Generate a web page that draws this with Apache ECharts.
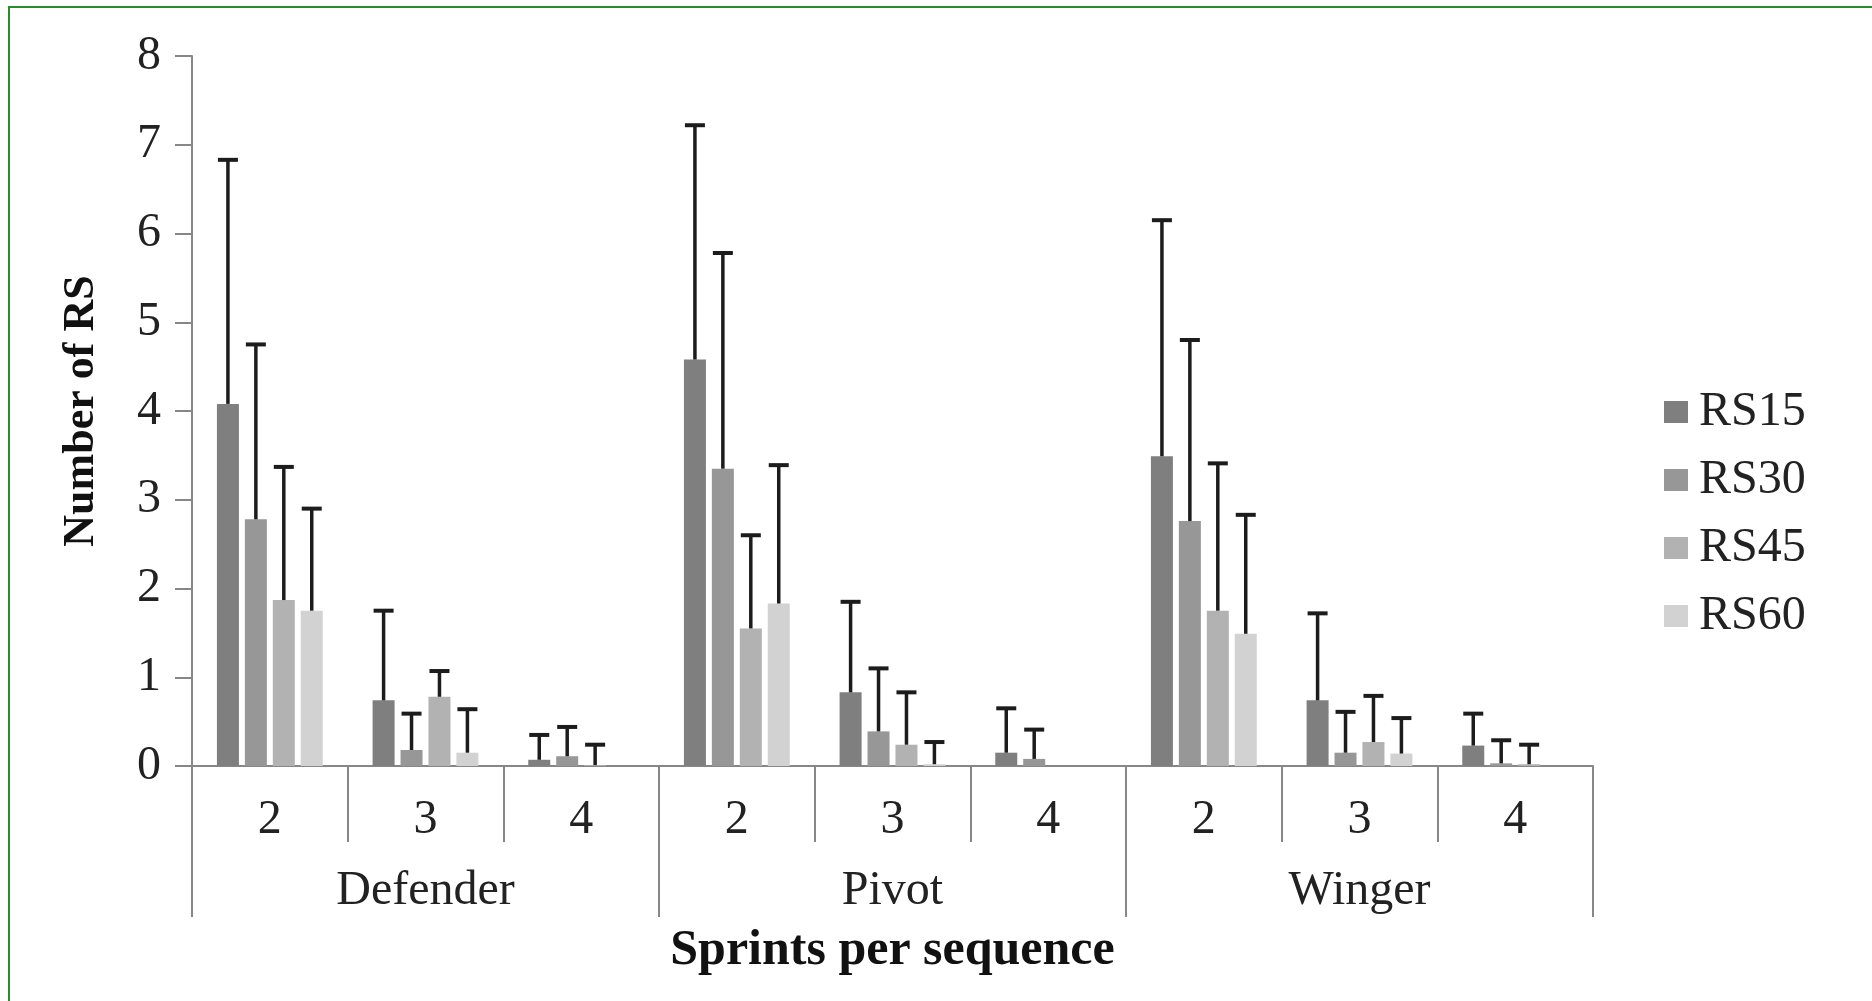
<!DOCTYPE html>
<html>
<head>
<meta charset="utf-8">
<script src="https://cdn.jsdelivr.net/npm/echarts@6/dist/echarts.min.js"></script>
<style>
  html, body { margin: 0; padding: 0; background: #ffffff; }
  #chart { position: absolute; left: 0; top: 0; width: 1872px; height: 1001px; }
  #frame {
    position: absolute; left: 8px; top: 6px; right: 0; bottom: 0;
    border-left: 2px solid #2b8c2b; border-top: 2px solid #2b8c2b;
    pointer-events: none;
  }
</style>
</head>
<body>
<div id="chart"></div>
<div id="frame"></div>
<script>
// Sprints per sequence (inner axis) and playing position (outer axis)
const sprints = ['2', '3', '4', '2', '3', '4', '2', '3', '4'];
const positions = ['Defender', 'Pivot', 'Winger'];
const yTicks = { min: 0, max: 8, step: 1 };

// Mean number of repeated sprints, one value per sprints/position category
const rs15Mean = [4.08, 0.74, 0.07, 4.58, 0.83, 0.15, 3.49, 0.74, 0.23];
const rs30Mean = [2.78, 0.18, 0.11, 3.35, 0.39, 0.08, 2.76, 0.15, 0.03];
const rs45Mean = [1.87, 0.78, 0.01, 1.55, 0.24, 0.00, 1.75, 0.27, 0.02];
const rs60Mean = [1.75, 0.15, 0.00, 1.83, 0.02, 0.00, 1.49, 0.14, 0.00];

// Standard deviations (upper error bars)
const rs15Sd = [2.75, 1.01, 0.28, 2.64, 1.02, 0.50, 2.66, 0.98, 0.36];
const rs30Sd = [1.97, 0.41, 0.33, 2.43, 0.71, 0.33, 2.04, 0.46, 0.26];
const rs45Sd = [1.50, 0.29, 0.23, 1.05, 0.59, 0.00, 1.66, 0.52, 0.22];
const rs60Sd = [1.15, 0.49, 0.00, 1.56, 0.25, 0.00, 1.34, 0.40, 0.00];

const seriesNames = ['RS15', 'RS30', 'RS45', 'RS60'];
const seriesMeans = [rs15Mean, rs30Mean, rs45Mean, rs60Mean];
const seriesSds = [rs15Sd, rs30Sd, rs45Sd, rs60Sd];
const seriesColors = ['#7f7f7f', '#979797', '#b2b2b2', '#d2d2d2'];

const FONT = '"Liberation Serif", "Times New Roman", serif';
const AXIS_GREY = '#878787';
const TEXT_COLOR = '#222222';
const BAR_WIDTH = 22;
const BAR_GAP = 0.27;           // fraction of bar width between neighbouring bars
const BAR_PITCH = BAR_WIDTH * (1 + BAR_GAP);

const chart = echarts.init(document.getElementById('chart'), null, { renderer: 'canvas' });

const barSeries = seriesNames.map((name, i) => ({
  name: name,
  type: 'bar',
  xAxisIndex: 0,
  yAxisIndex: 0,
  data: seriesMeans[i],
  barWidth: BAR_WIDTH,
  barGap: (BAR_GAP * 100) + '%',
  itemStyle: { color: seriesColors[i] },
  z: 2
}));

// Upper error bars, shifted to sit on the matching bar of each cluster
const errorSeries = seriesNames.map((name, i) => ({
  name: name + ' SD',
  type: 'custom',
  xAxisIndex: 0,
  yAxisIndex: 0,
  z: 3,
  silent: true,
  data: seriesMeans[i].map((m, k) => [k, m, m + seriesSds[i][k], seriesSds[i][k]]),
  renderItem: function (params, api) {
    if (api.value(3) <= 0) return null;
    const offset = (i - (seriesNames.length - 1) / 2) * BAR_PITCH;
    const base = api.coord([api.value(0), api.value(1)]);
    const top = api.coord([api.value(0), api.value(2)]);
    const x = base[0] + offset;
    const capHalf = 10;
    return {
      type: 'group',
      children: [
        { type: 'line', shape: { x1: x, y1: base[1], x2: x, y2: top[1] },
          style: { stroke: '#1c1c1c', lineWidth: 3.5 } },
        { type: 'line', shape: { x1: x - capHalf, y1: top[1], x2: x + capHalf, y2: top[1] },
          style: { stroke: '#1c1c1c', lineWidth: 4 } }
      ]
    };
  }
}));

const option = {
  animation: false,
  backgroundColor: '#ffffff',
  grid: { left: 192, right: 279, top: 56, bottom: 235, containLabel: false },
  legend: {
    data: seriesNames,
    orient: 'vertical',
    left: 1664,
    top: 388,
    padding: 0,
    itemWidth: 24,
    itemHeight: 22,
    itemGap: 20,
    icon: 'rect',
    textStyle: { fontFamily: FONT, fontSize: 48, color: TEXT_COLOR, padding: [0, 0, 0, 6] }
  },
  xAxis: [
    {
      type: 'category',
      data: sprints,
      position: 'bottom',
      axisLine: { show: true, lineStyle: { color: AXIS_GREY, width: 2 } },
      axisTick: { show: true, interval: 0, length: 76, lineStyle: { color: AXIS_GREY, width: 2 } },
      axisLabel: { interval: 0, margin: 30, fontFamily: FONT, fontSize: 48, color: TEXT_COLOR },
      splitLine: { show: false }
    },
    {
      type: 'category',
      data: positions,
      position: 'bottom',
      offset: 0,
      axisLine: { show: false },
      axisTick: { show: true, interval: 0, length: 151, lineStyle: { color: AXIS_GREY, width: 2 } },
      axisLabel: { interval: 0, margin: 101, fontFamily: FONT, fontSize: 48, color: TEXT_COLOR },
      splitLine: { show: false },
      name: 'Sprints per sequence',
      nameLocation: 'middle',
      nameGap: 160,
      nameTextStyle: { fontFamily: FONT, fontSize: 50, fontWeight: 'bold', color: '#111111' }
    }
  ],
  yAxis: {
    type: 'value',
    min: yTicks.min,
    max: yTicks.max,
    interval: yTicks.step,
    splitLine: { show: false },
    axisLine: { show: true, lineStyle: { color: AXIS_GREY, width: 2 } },
    axisTick: { show: true, length: 17, lineStyle: { color: AXIS_GREY, width: 2 } },
    axisLabel: { margin: 31, fontFamily: FONT, fontSize: 48, color: TEXT_COLOR },
    name: 'Number of RS',
    nameLocation: 'middle',
    nameRotate: 90,
    nameGap: 88,
    nameTextStyle: { fontFamily: FONT, fontSize: 44, fontWeight: 'bold', color: '#111111' }
  },
  series: barSeries.concat(errorSeries)
};

chart.setOption(option);
</script>
</body>
</html>
